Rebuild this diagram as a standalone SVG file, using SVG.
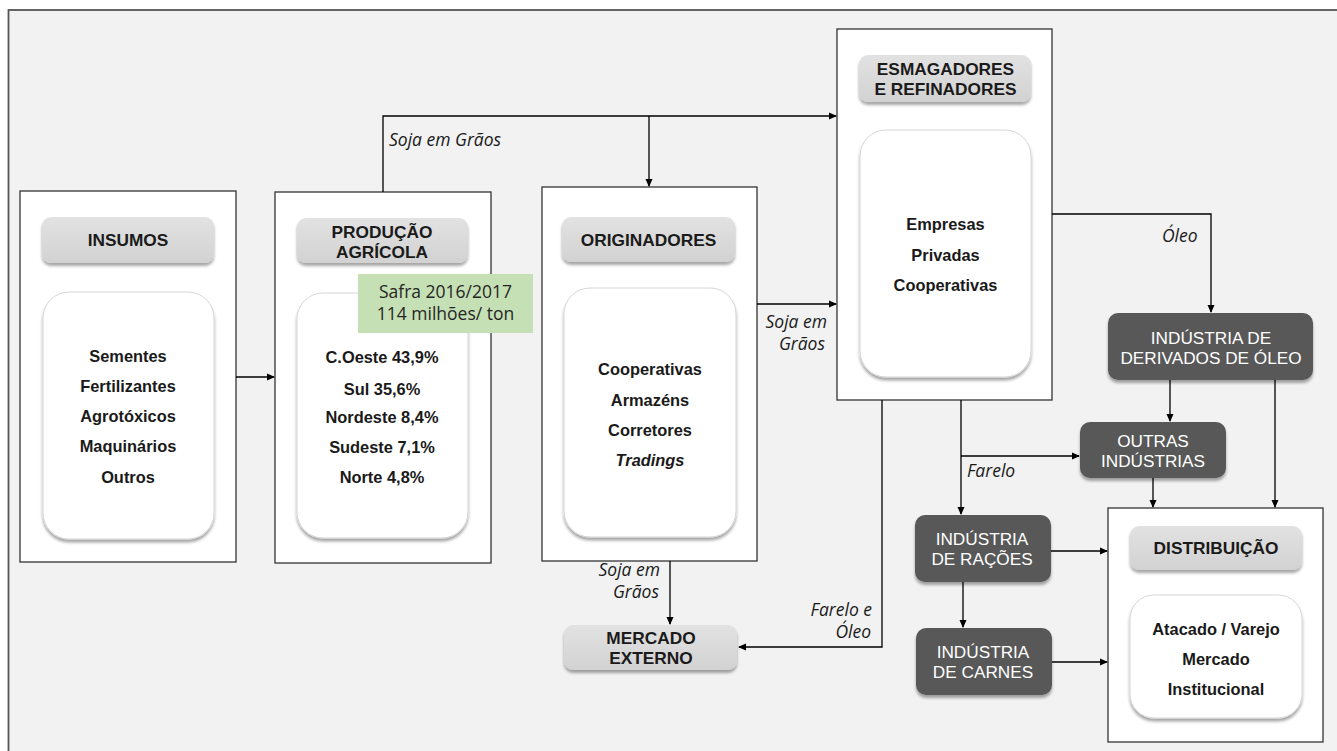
<svg xmlns="http://www.w3.org/2000/svg" width="1337" height="751" viewBox="0 0 1337 751">
<defs>
<marker id="ah" markerWidth="8" markerHeight="8" refX="7" refY="4" orient="auto" markerUnits="userSpaceOnUse">
<path d="M0,0.5 L8,4 L0,7.5 Z" fill="#000"/>
</marker>
<linearGradient id="hg" x1="0" y1="0" x2="0" y2="1">
<stop offset="0" stop-color="#e2e2e2"/>
<stop offset="1" stop-color="#d2d2d2"/>
</linearGradient>
<filter id="sh" x="-10%" y="-10%" width="120%" height="130%">
<feDropShadow dx="0" dy="3" stdDeviation="1.5" flood-color="#000" flood-opacity="0.35"/>
</filter>
</defs>
<style>
.frame{fill:#fff;stroke:#333;stroke-width:1.3}
.hdr{fill:url(#hg);filter:url(#sh)}
.inner{fill:#fff;stroke:#d6d6d6;stroke-width:1;filter:url(#sh)}
.dark{fill:#595959;filter:url(#sh)}
.ht{font-family:"Liberation Sans",Arial,sans-serif;font-size:17.3px;font-weight:bold;fill:#1a1a1a;text-anchor:middle}
.bt{font-family:"Liberation Sans",Arial,sans-serif;font-size:16.4px;font-weight:bold;fill:#1a1a1a;text-anchor:middle}
.wt{font-family:"Liberation Sans",Arial,sans-serif;font-size:17.2px;fill:#fff;text-anchor:middle}
.lb{font-family:"Open Sans","Liberation Sans",sans-serif;font-size:17.5px;font-style:italic;fill:#1a1a1a}
.sf{font-family:"Open Sans","Liberation Sans",sans-serif;font-size:17.5px;fill:#262626;text-anchor:middle}
.cn{fill:none;stroke:#000;stroke-width:1.3}
</style>
<rect x="0" y="0" width="1337" height="751" fill="#fff"/>
<rect x="8.5" y="10" width="1340" height="760" fill="#f2f2f2" stroke="#555" stroke-width="1.8"/>

<g id="insumos">
<rect class="frame" x="20" y="191" width="216" height="371"/>
<rect class="hdr" x="42" y="217" width="172" height="46" rx="9"/>
<text class="ht" x="128" y="246">INSUMOS</text>
<rect class="inner" x="43" y="292" width="171" height="247" rx="26"/>
<text class="bt" x="128" y="361.5">Sementes</text>
<text class="bt" x="128" y="392">Fertilizantes</text>
<text class="bt" x="128" y="422">Agrotóxicos</text>
<text class="bt" x="128" y="452">Maquinários</text>
<text class="bt" x="128" y="483">Outros</text>
</g>

<g id="producao">
<rect class="frame" x="275" y="192" width="216" height="371"/>
<rect class="hdr" x="297" y="218" width="171" height="45" rx="9"/>
<text class="ht" x="382" y="237.5">PRODUÇÃO</text>
<text class="ht" x="382" y="257.5">AGRÍCOLA</text>
<rect class="inner" x="297" y="293" width="171" height="245" rx="26"/>
<text class="bt" x="382" y="362.5">C.Oeste 43,9%</text>
<text class="bt" x="382" y="395">Sul 35,6%</text>
<text class="bt" x="382" y="423">Nordeste 8,4%</text>
<text class="bt" x="382" y="453">Sudeste 7,1%</text>
<text class="bt" x="382" y="482.5">Norte 4,8%</text>
</g>

<g id="safra">
<rect x="358" y="274" width="175" height="59" fill="#c5e0b4"/>
<text class="sf" x="445.5" y="298">Safra 2016/2017</text>
<text class="sf" x="445.5" y="320">114 milhões/ ton</text>
</g>

<g id="originadores">
<rect class="frame" x="542" y="187" width="215" height="374"/>
<rect class="hdr" x="562" y="217" width="173" height="45" rx="9"/>
<text class="ht" x="648.5" y="245.5">ORIGINADORES</text>
<rect class="inner" x="564" y="288" width="172" height="249" rx="26"/>
<text class="bt" x="650" y="375">Cooperativas</text>
<text class="bt" x="650" y="405.5">Armazéns</text>
<text class="bt" x="650" y="436">Corretores</text>
<text class="bt" x="650" y="466" font-style="italic">Tradings</text>
</g>

<g id="esmagadores">
<rect class="frame" x="837" y="29" width="215" height="371"/>
<rect class="hdr" x="859" y="55" width="172" height="47" rx="9"/>
<text class="ht" x="945.5" y="75">ESMAGADORES</text>
<text class="ht" x="945.5" y="94.5">E REFINADORES</text>
<rect class="inner" x="860" y="130" width="171" height="247" rx="26"/>
<text class="bt" x="945.5" y="230">Empresas</text>
<text class="bt" x="945.5" y="260.5">Privadas</text>
<text class="bt" x="945.5" y="291">Cooperativas</text>
</g>

<g id="mercado-externo">
<rect class="hdr" x="564" y="625" width="173" height="45" rx="9"/>
<text class="ht" x="651" y="643.5">MERCADO</text>
<text class="ht" x="651" y="663.5">EXTERNO</text>
</g>

<g id="derivados">
<rect class="dark" x="1108" y="313" width="205" height="67" rx="10"/>
<text class="wt" x="1211" y="343.5">INDÚSTRIA DE</text>
<text class="wt" x="1211" y="363.5">DERIVADOS DE ÓLEO</text>
</g>

<g id="outras">
<rect class="dark" x="1080" y="422" width="146" height="56" rx="10"/>
<text class="wt" x="1153" y="447">OUTRAS</text>
<text class="wt" x="1153" y="467">INDÚSTRIAS</text>
</g>

<g id="racoes">
<rect class="dark" x="915" y="515" width="136" height="67" rx="10"/>
<text class="wt" x="982" y="544.5">INDÚSTRIA</text>
<text class="wt" x="982" y="564.5">DE RAÇÕES</text>
</g>

<g id="carnes">
<rect class="dark" x="916" y="628" width="136" height="67" rx="10"/>
<text class="wt" x="983" y="658">INDÚSTRIA</text>
<text class="wt" x="983" y="678">DE CARNES</text>
</g>

<g id="distribuicao">
<rect class="frame" x="1108" y="508" width="215" height="234"/>
<rect class="hdr" x="1130" y="526" width="172" height="44" rx="9"/>
<text class="ht" x="1216" y="553.5">DISTRIBUIÇÃO</text>
<rect class="inner" x="1130" y="595" width="172" height="123" rx="24"/>
<text class="bt" x="1216" y="634.5">Atacado / Varejo</text>
<text class="bt" x="1216" y="665">Mercado</text>
<text class="bt" x="1216" y="695">Institucional</text>
</g>

<g id="connectors">
<path class="cn" d="M236,377 H274" marker-end="url(#ah)"/>
<path class="cn" d="M383,192 V116 H836" marker-end="url(#ah)"/>
<path class="cn" d="M649,116 V186" marker-end="url(#ah)"/>
<path class="cn" d="M757,304 H836" marker-end="url(#ah)"/>
<path class="cn" d="M670,561 V624" marker-end="url(#ah)"/>
<path class="cn" d="M882,400 V647 H739" marker-end="url(#ah)"/>
<path class="cn" d="M1052,214 H1211 V312" marker-end="url(#ah)"/>
<path class="cn" d="M1170,380 V421" marker-end="url(#ah)"/>
<path class="cn" d="M1275,380 V507" marker-end="url(#ah)"/>
<path class="cn" d="M1153,478 V507" marker-end="url(#ah)"/>
<path class="cn" d="M961,400 V514" marker-end="url(#ah)"/>
<path class="cn" d="M961,456 H1079" marker-end="url(#ah)"/>
<path class="cn" d="M1051,551 H1107" marker-end="url(#ah)"/>
<path class="cn" d="M963,582 V627" marker-end="url(#ah)"/>
<path class="cn" d="M1052,662 H1107" marker-end="url(#ah)"/>
</g>

<g id="labels">
<text class="lb" x="389" y="146">Soja em Grãos</text>
<text class="lb" x="827" y="328" text-anchor="end">Soja em</text>
<text class="lb" x="825" y="350" text-anchor="end">Grãos</text>
<text class="lb" x="660" y="576" text-anchor="end">Soja em</text>
<text class="lb" x="659" y="598" text-anchor="end">Grãos</text>
<text class="lb" x="872" y="616" text-anchor="end">Farelo e</text>
<text class="lb" x="871" y="638" text-anchor="end">Óleo</text>
<text class="lb" x="1162" y="242">Óleo</text>
<text class="lb" x="967" y="477">Farelo</text>
</g>
</svg>
